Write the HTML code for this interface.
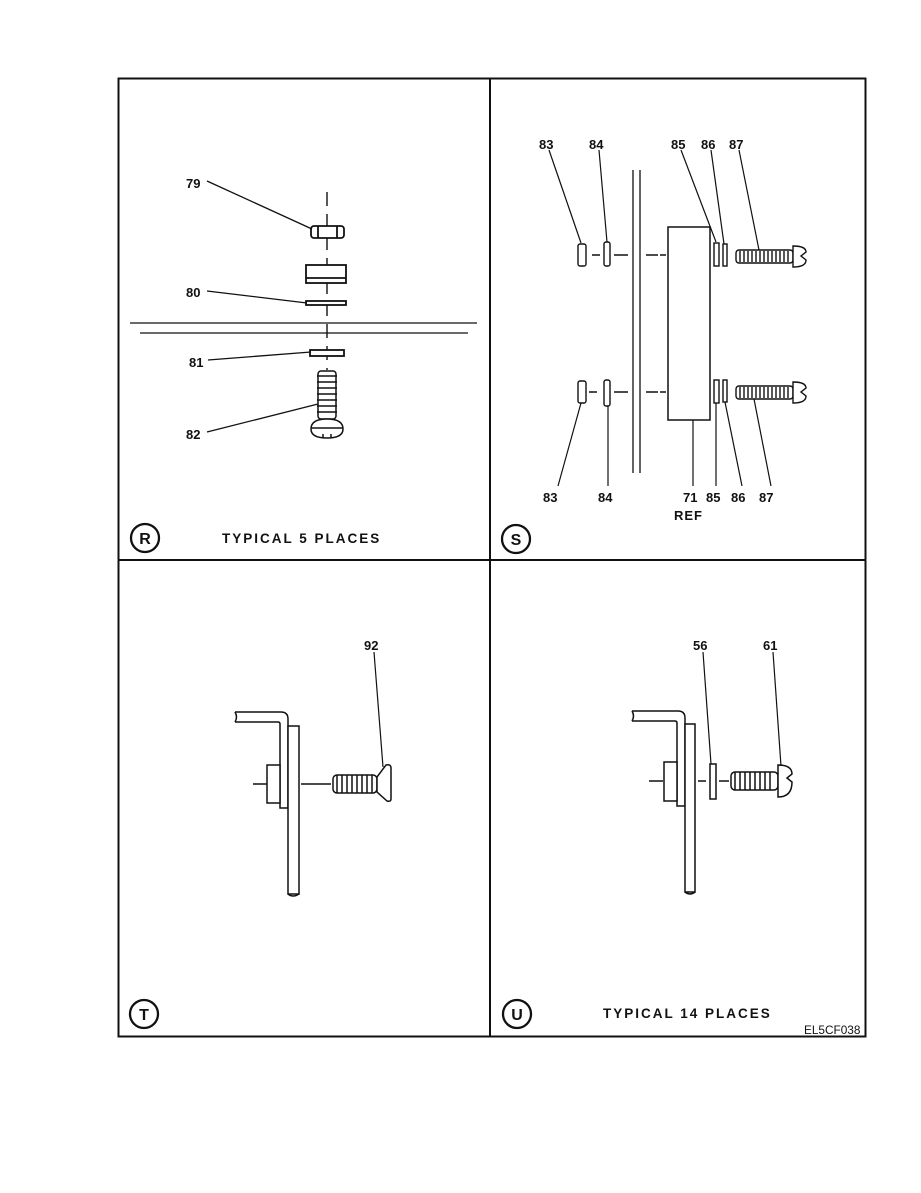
<!DOCTYPE html>
<html><head><meta charset="utf-8"><style>
html,body{margin:0;padding:0;background:#fff;}
svg{display:block;}
text{font-family:"Liberation Sans",sans-serif;font-weight:bold;fill:#111;}
</style></head><body>
<svg width="921" height="1193" viewBox="0 0 921 1193" xmlns="http://www.w3.org/2000/svg">
<g fill="none" stroke="#111" stroke-width="1.8">
<rect x="118.5" y="78.5" width="747" height="958" stroke-width="2"/>
<line x1="490" y1="78" x2="490" y2="1037" stroke-width="2"/>
<line x1="118" y1="560" x2="866" y2="560" stroke-width="2"/>

<line x1="327" y1="192" x2="327" y2="370" stroke-dasharray="14,8" stroke-width="1.4"/>
<line x1="130" y1="323" x2="477" y2="323" stroke-width="1.3"/>
<line x1="140" y1="333" x2="468" y2="333" stroke-width="1.3"/>
<rect x="311" y="226" width="33" height="12" rx="3" fill="#fff"/>
<line x1="318" y1="226" x2="318" y2="238"/><line x1="337" y1="226" x2="337" y2="238"/>
<rect x="306" y="265" width="40" height="18" fill="#fff"/>
<line x1="306" y1="278" x2="346" y2="278"/>
<rect x="306" y="301" width="40" height="4" fill="#fff"/>
<rect x="310" y="350" width="34" height="6" fill="#fff"/>
<g stroke-width="1.5">
<rect x="318" y="371" width="18" height="48" rx="3" fill="#fff"/>
<path d="M317 376h20M317 382h20M317 388h20M317 394h20M317 400h20M317 406h20M317 412h20"/>
<path d="M311 429 Q311 419 327 419 Q343 419 343 429 Q343 438 327 438 Q311 438 311 429Z" fill="#fff"/>
<path d="M311 428h32M323 434v4M331 434v4"/>
</g>
<g stroke-width="1.3">
<line x1="207" y1="181" x2="312" y2="229"/>
<line x1="207" y1="291" x2="307" y2="303"/>
<line x1="208" y1="360" x2="311" y2="352"/>
<line x1="207" y1="432" x2="318" y2="404"/>
</g>
<circle cx="145" cy="538" r="14" stroke-width="2.3"/>

<line x1="633" y1="170" x2="633" y2="473" stroke-width="1.3"/>
<line x1="640" y1="170" x2="640" y2="473" stroke-width="1.3"/>
<rect x="668" y="227" width="42" height="193" fill="#fff" stroke-width="1.5"/>
<g stroke-width="1.4">
<path d="M592 255h8M614 255h14M646 255h12M660 255h6" />
<rect x="578" y="244" width="8" height="22" rx="2" fill="#fff"/>
<rect x="604" y="242" width="6" height="24" rx="2" fill="#fff"/>
<rect x="714" y="243" width="5" height="23" fill="#fff"/>
<rect x="723" y="244" width="4" height="22" fill="#fff"/>
<rect x="736" y="250" width="57" height="13" rx="3" fill="#fff"/>
<path d="M740 251v11M744 251v11M748 251v11M752 251v11M756 251v11M760 251v11M764 251v11M768 251v11M772 251v11M776 251v11M780 251v11M784 251v11M788 251v11"/>
<path d="M793 246 Q806 246 806 252 L801 256 L806 260 Q806 267 793 267Z" fill="#fff"/>
<path d="M589 392h8M614 392h14M646 392h12M660 392h6"/>
<rect x="578" y="381" width="8" height="22" rx="2" fill="#fff"/>
<rect x="604" y="380" width="6" height="26" rx="2" fill="#fff"/>
<rect x="714" y="380" width="5" height="23" fill="#fff"/>
<rect x="723" y="380" width="4" height="22" fill="#fff"/>
<rect x="736" y="386" width="57" height="13" rx="3" fill="#fff"/>
<path d="M740 387v11M744 387v11M748 387v11M752 387v11M756 387v11M760 387v11M764 387v11M768 387v11M772 387v11M776 387v11M780 387v11M784 387v11M788 387v11"/>
<path d="M793 382 Q806 382 806 388 L801 392 L806 396 Q806 403 793 403Z" fill="#fff"/>
</g>
<g stroke-width="1.2">
<line x1="549" y1="150" x2="581" y2="243"/>
<line x1="599" y1="150" x2="607" y2="242"/>
<line x1="681" y1="150" x2="716" y2="242"/>
<line x1="711" y1="150" x2="724" y2="244"/>
<line x1="739" y1="150" x2="759" y2="250"/>
<line x1="558" y1="486" x2="581" y2="403"/>
<line x1="608" y1="486" x2="608" y2="406"/>
<line x1="693" y1="486" x2="693" y2="420"/>
<line x1="716" y1="486" x2="716" y2="403"/>
<line x1="742" y1="486" x2="725" y2="402"/>
<line x1="771" y1="486" x2="754" y2="399"/>
</g>
<circle cx="516" cy="539" r="14" stroke-width="2.3"/>

<g stroke-width="1.5">
<path d="M235 712 L281 712 Q288 712 288 719 L288 808 L280 808 L280 724 Q280 722 278 722 L235 722" fill="#fff"/>
<path d="M235 712 q3 5 0 10"/>
<rect x="288" y="726" width="11" height="168" fill="#fff"/>
<path d="M288 894 q5 4 11 0"/>
<rect x="267" y="765" width="13" height="38" fill="#fff"/>
<path d="M253 784h14M301 784h30"/>
<rect x="333" y="775" width="44" height="18" rx="4" fill="#fff"/>
<path d="M337 775v18M342 775v18M347 775v18M352 775v18M357 775v18M362 775v18M367 775v18M372 775v18"/>
<path d="M377 777 L386 765 Q391 764 391 768 L391 799 Q391 802 387 801 L377 792Z" fill="#fff"/>
</g>
<line x1="374" y1="652" x2="383" y2="767" stroke-width="1.2"/>
<circle cx="144" cy="1014" r="14" stroke-width="2.3"/>

<g stroke-width="1.5">
<path d="M632 711 L678 711 Q685 711 685 718 L685 806 L677 806 L677 723 Q677 721 675 721 L632 721" fill="#fff"/>
<path d="M632 711 q3 5 0 10"/>
<rect x="685" y="724" width="10" height="168" fill="#fff"/>
<path d="M685 892 q5 4 10 0"/>
<rect x="664" y="762" width="13" height="39" fill="#fff"/>
<path d="M649 781h14M698 781h8M719 781h10"/>
<rect x="710" y="764" width="6" height="35" fill="#fff"/>
<rect x="731" y="772" width="47" height="18" rx="4" fill="#fff"/>
<path d="M735 772v18M740 772v18M745 772v18M750 772v18M755 772v18M760 772v18M765 772v18M770 772v18"/>
<path d="M778 765 Q792 765 792 774 L787 778 L792 782 Q792 797 778 797Z" fill="#fff"/>
</g>
<g stroke-width="1.2">
<line x1="703" y1="652" x2="711" y2="764"/>
<line x1="773" y1="652" x2="781" y2="766"/>
</g>
<circle cx="517" cy="1014" r="14" stroke-width="2.3"/>
</g>

<g font-size="13">
<text x="186" y="188">79</text>
<text x="186" y="297">80</text>
<text x="189" y="367">81</text>
<text x="186" y="439">82</text>
<text x="539" y="149">83</text>
<text x="589" y="149">84</text>
<text x="671" y="149">85</text>
<text x="701" y="149">86</text>
<text x="729" y="149">87</text>
<text x="543" y="502">83</text>
<text x="598" y="502">84</text>
<text x="683" y="502">71</text>
<text x="706" y="502">85</text>
<text x="731" y="502">86</text>
<text x="759" y="502">87</text>
<text x="674" y="520" letter-spacing="1">REF</text>
<text x="364" y="650">92</text>
<text x="693" y="650">56</text>
<text x="763" y="650">61</text>
</g>
<g font-size="16" text-anchor="middle">
<text x="145" y="544">R</text>
<text x="516" y="545">S</text>
<text x="144" y="1020">T</text>
<text x="517" y="1020">U</text>
</g>
<g font-size="13.5" letter-spacing="2">
<text x="222" y="543">TYPICAL 5 PLACES</text>
<text x="603" y="1018">TYPICAL 14 PLACES</text>
</g>
<text x="804" y="1034" font-size="11.8" style="font-weight:normal">EL5CF038</text>
</svg>
</body></html>
